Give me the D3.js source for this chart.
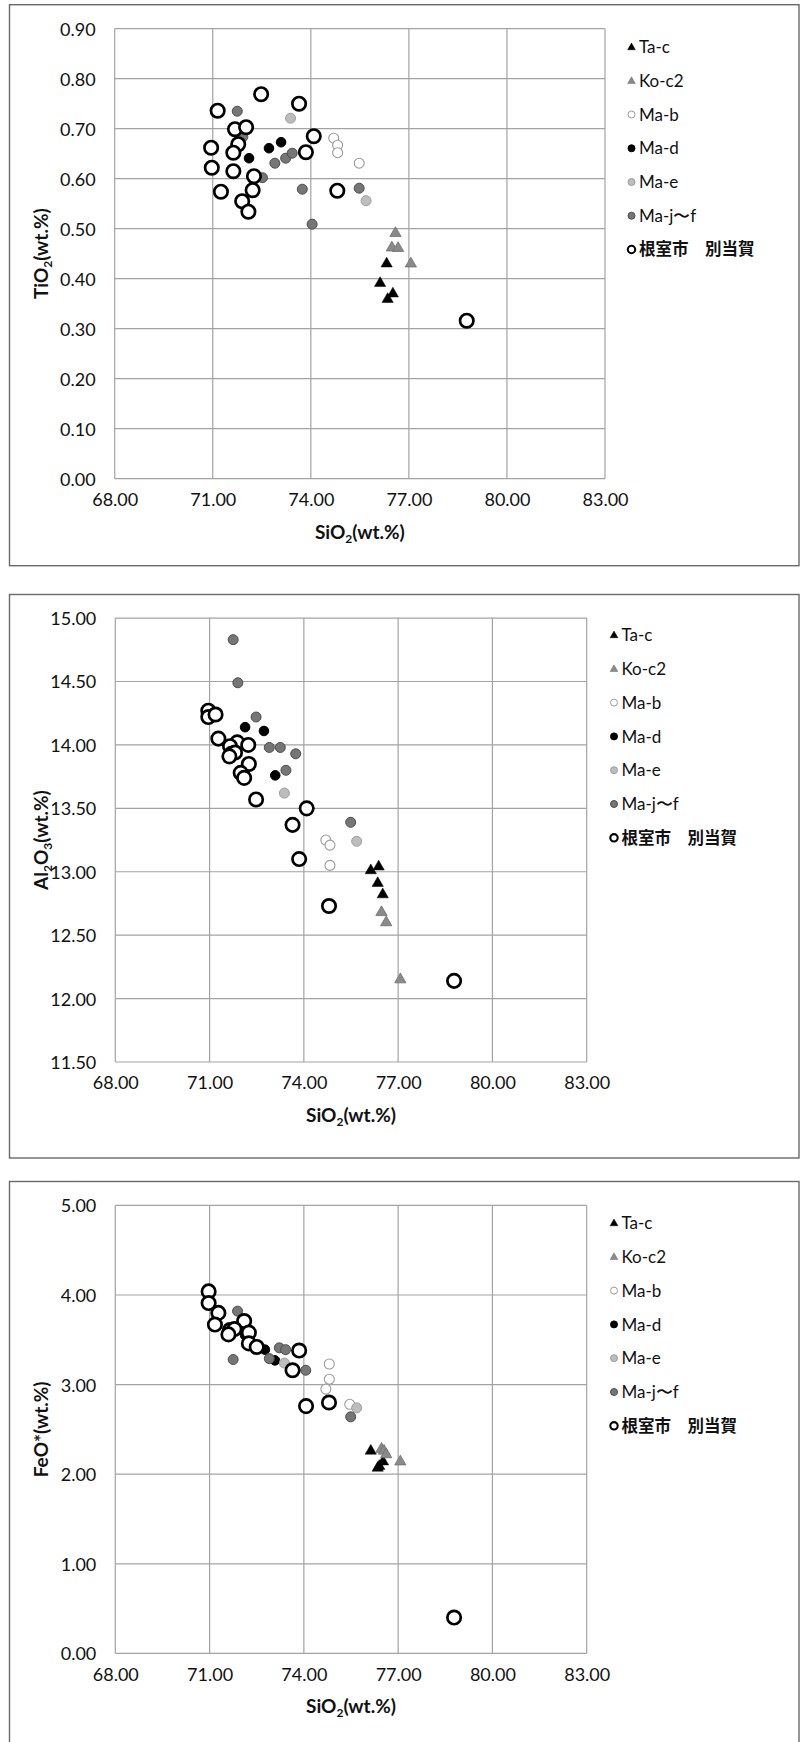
<!DOCTYPE html>
<html><head><meta charset="utf-8">
<script src="https://cdn.jsdelivr.net/npm/d3@7/dist/d3.min.js"></script>
<style>body{margin:0;background:#fff}svg{display:block}</style>
</head><body>
<script>
// ---------- Data (SiO2, oxide) ----------
const seriesNames = ["Ta-c","Ko-c2","Ma-b","Ma-d","Ma-e","Ma-j〜f","根室市　別当賀"];
const xTicks = [68,71,74,77,80,83];

// Panel 1: TiO2
const ti_Tac   = [[76.32,0.430],[76.12,0.391],[76.35,0.359],[76.51,0.370]];
const ti_Koc2  = [[76.59,0.491],[76.48,0.462],[76.67,0.461],[77.06,0.430]];
const ti_Mab   = [[74.70,0.681],[74.82,0.667],[74.82,0.652],[75.48,0.631]];
const ti_Mad   = [[72.11,0.641],[72.72,0.661],[73.09,0.673]];
const ti_Mae   = [[73.38,0.721],[75.69,0.556]];
const ti_Majf  = [[71.75,0.735],[71.92,0.684],[72.90,0.631],[73.23,0.641],[73.43,0.651],[72.52,0.602],[73.74,0.579],[75.48,0.581],[74.04,0.509]];
const ti_Nemuro= [[72.48,0.769],[73.64,0.750],[71.15,0.736],[71.68,0.699],[72.02,0.703],[74.09,0.685],[70.95,0.662],[71.78,0.669],[71.63,0.652],[73.85,0.653],[70.97,0.622],[71.63,0.615],[72.26,0.605],[71.25,0.574],[72.22,0.577],[74.81,0.576],[71.90,0.555],[72.09,0.534],[78.77,0.316]];
const tiTicks = [0,0.1,0.2,0.3,0.4,0.5,0.6,0.7,0.8,0.9];

// Panel 2: Al2O3
const al_Tac   = [[76.13,13.01],[76.38,13.04],[76.35,12.91],[76.51,12.82]];
const al_Koc2  = [[76.47,12.68],[76.62,12.60],[77.07,12.15]];
const al_Mab   = [[74.70,13.25],[74.83,13.21],[74.83,13.05]];
const al_Mad   = [[72.13,14.14],[72.73,14.11],[73.09,13.76]];
const al_Mae   = [[73.38,13.62],[75.68,13.24]];
const al_Majf  = [[71.75,14.83],[71.90,14.49],[72.48,14.22],[72.90,13.98],[73.25,13.98],[73.74,13.93],[73.43,13.80],[75.49,13.39]];
const al_Nemuro= [[70.96,14.27],[70.96,14.22],[71.19,14.24],[71.28,14.05],[71.88,14.02],[71.65,13.99],[72.23,14.00],[71.70,13.93],[71.81,13.94],[71.63,13.91],[72.25,13.85],[71.99,13.78],[72.10,13.74],[72.48,13.57],[74.09,13.50],[73.64,13.37],[73.85,13.10],[74.80,12.73],[78.78,12.14]];
const alTicks = [11.5,12,12.5,13,13.5,14,14.5,15];

// Panel 3: FeO*
const fe_Tac   = [[76.13,2.26],[76.35,2.07],[76.40,2.09],[76.52,2.14]];
const fe_Koc2  = [[76.47,2.28],[76.55,2.26],[76.62,2.22],[77.07,2.14]];
const fe_Mab   = [[74.81,3.23],[74.81,3.06],[74.70,2.95],[75.46,2.78]];
const fe_Mad   = [[72.13,3.55],[72.76,3.39],[73.08,3.27]];
const fe_Mae   = [[73.38,3.24],[75.68,2.74]];
const fe_Majf  = [[71.89,3.82],[71.75,3.28],[73.22,3.41],[73.42,3.39],[72.90,3.29],[74.06,3.16],[75.49,2.64]];
const fe_Nemuro= [[70.97,4.04],[70.97,3.91],[71.28,3.80],[71.17,3.67],[72.10,3.71],[71.65,3.61],[71.79,3.62],[71.60,3.56],[72.25,3.58],[72.25,3.46],[72.50,3.42],[73.85,3.38],[73.64,3.16],[74.07,2.76],[74.80,2.80],[78.78,0.40]];
const feTicks = [0,1,2,3,4,5];

// ---------- Styles ----------
const styles = [
  {shape:"tri", fill:"#000", stroke:"#000", sw:0.5, size:55, lsize:26},
  {shape:"tri", fill:"#8a8a8a", stroke:"#6e6e6e", sw:0.8, size:55, lsize:26},
  {shape:"circ", fill:"#fff", stroke:"#9a9a9a", sw:1.1, r:5, lr:3.5},
  {shape:"circ", fill:"#000", stroke:"#000", sw:1, r:4.8, lr:3.5},
  {shape:"circ", fill:"#bdbdbd", stroke:"#9d9d9d", sw:1, r:5, lr:3.5},
  {shape:"circ", fill:"#767676", stroke:"#4d4d4d", sw:1, r:5, lr:3.5},
  {shape:"circ", fill:"#fff", stroke:"#000", sw:2.7, r:6.7, lr:3.7, lsw:2.1}
];

const panels = [
  {data:[ti_Tac,ti_Koc2,ti_Mab,ti_Mad,ti_Mae,ti_Majf,ti_Nemuro], yTicks:tiTicks, fmt:d3.format(".2f"),
   x0:114.7, x1:605, y0:28.7, y1:478.7, frame:[4.7,565.7], legX:631.5, legY:47, legDy:33.75,
   title:[["TiO",0],["2",1],["(wt.%)",0]]},
  {data:[al_Tac,al_Koc2,al_Mab,al_Mad,al_Mae,al_Majf,al_Nemuro], yTicks:alTicks, fmt:d3.format(".2f"),
   x0:115.3, x1:586.7, y0:618.1, y1:1062, frame:[594.5,1158], legX:614, legY:635, legDy:33.8,
   title:[["Al",0],["2",1],["O",0],["3",1],["(wt.%)",0]]},
  {data:[fe_Tac,fe_Koc2,fe_Mab,fe_Mad,fe_Mae,fe_Majf,fe_Nemuro], yTicks:feTicks, fmt:d3.format(".2f"),
   x0:115.3, x1:586.7, y0:1205.4, y1:1653.4, frame:[1181.5,1760], legX:614, legY:1223, legDy:33.8,
   title:[["FeO*(wt.%)",0]]}
];

const W = 800, H = 1742;
const svg = d3.select("body").append("svg").attr("width",W).attr("height",H);
const tickFont = "Lato, 'Open Sans', sans-serif";

// rich text: parts = [text, isSub]; sub shift in px
function addRich(textSel, parts, subSize, shift){
  let cur = 0;
  parts.forEach(p=>{
    const target = p[1] ? shift : 0;
    const t = textSel.append("tspan").attr("dy", target - cur).text(p[0]);
    if(p[1]) t.attr("font-size",subSize);
    cur = target;
  });
}

panels.forEach(P=>{
  const g = svg.append("g");
  // frame
  g.append("rect").attr("x",9.5).attr("y",P.frame[0]).attr("width",789.5).attr("height",P.frame[1]-P.frame[0])
    .attr("fill","none").attr("stroke","#6a6a6a").attr("stroke-width",1.4);

  const x = d3.scaleLinear().domain([68,83]).range([P.x0,P.x1]);
  const y = d3.scaleLinear().domain([P.yTicks[0],P.yTicks[P.yTicks.length-1]]).range([P.y1,P.y0]);

  // grid
  g.append("g").selectAll("line").data(P.yTicks).join("line")
    .attr("x1",P.x0).attr("x2",P.x1).attr("y1",d=>y(d)).attr("y2",d=>y(d))
    .attr("stroke","#a3a3a3").attr("stroke-width",1.2);
  g.append("g").selectAll("line").data(xTicks).join("line")
    .attr("x1",d=>x(d)).attr("x2",d=>x(d)).attr("y1",P.y0).attr("y2",P.y1)
    .attr("stroke","#a3a3a3").attr("stroke-width",1.2);

  // axes via d3 axis (labels only)
  const ya = d3.axisLeft(y).tickValues(P.yTicks).tickFormat(P.fmt).tickSize(0).tickPadding(0);
  const yg = g.append("g").attr("transform",`translate(${P.x0-19},0)`).call(ya);
  yg.select(".domain").remove();
  yg.selectAll("text").attr("font-family",tickFont).attr("font-size",18).attr("fill","#111").attr("dy","0.36em");

  const xa = d3.axisBottom(x).tickValues(xTicks).tickFormat(d3.format(".2f")).tickSize(0).tickPadding(0);
  const xg = g.append("g").attr("transform",`translate(0,${P.y1+21})`).call(xa);
  xg.select(".domain").remove();
  xg.selectAll("text").attr("font-family",tickFont).attr("font-size",18).attr("fill","#111").attr("dy","0.36em");

  // axis titles
  const xt = g.append("text").attr("x",(P.x0+P.x1)/2).attr("y",P.y1+60)
    .attr("text-anchor","middle").attr("font-family",tickFont).attr("font-weight","bold").attr("font-size",19).attr("fill","#111");
  addRich(xt,[["SiO",0],["2",1],["(wt.%)",0]],12,4);
  const cy = (P.y0+P.y1)/2;
  const yt = g.append("text").attr("transform",`translate(48,${cy}) rotate(-90)`)
    .attr("text-anchor","middle").attr("font-family",tickFont).attr("font-weight","bold").attr("font-size",19).attr("fill","#111");
  addRich(yt,P.title,12,4);

  // points
  P.data.forEach((arr,i)=>{
    const s = styles[i];
    const sg = g.append("g");
    if(s.shape==="circ"){
      sg.selectAll("circle").data(arr).join("circle")
        .attr("cx",d=>x(d[0])).attr("cy",d=>y(d[1])).attr("r",s.r)
        .attr("fill",s.fill).attr("stroke",s.stroke).attr("stroke-width",s.sw);
    } else {
      const sym = d3.symbol().type(d3.symbolTriangle).size(s.size);
      sg.selectAll("path").data(arr).join("path")
        .attr("transform",d=>`translate(${x(d[0])},${y(d[1])})`).attr("d",sym)
        .attr("fill",s.fill).attr("stroke",s.stroke).attr("stroke-width",s.sw);
    }
  });

  // legend
  seriesNames.forEach((name,i)=>{
    const s = styles[i];
    const ly = P.legY + i*P.legDy;
    if(s.shape==="circ"){
      g.append("circle").attr("cx",P.legX).attr("cy",ly).attr("r",s.lr)
        .attr("fill",s.fill).attr("stroke",s.stroke).attr("stroke-width",s.lsw||1);
    } else {
      g.append("path").attr("transform",`translate(${P.legX},${ly+0.5})`)
        .attr("d",d3.symbol().type(d3.symbolTriangle).size(s.lsize)).attr("fill",s.fill).attr("stroke",s.stroke).attr("stroke-width",0.5);
    }
    const isCJK = i===6;
    g.append("text").attr("x",P.legX+7.5).attr("y",ly).attr("dy","0.36em")
      .attr("font-family",isCJK?"'Noto Sans CJK JP', sans-serif":tickFont)
      .attr("font-weight",isCJK?"bold":"normal")
      .attr("font-size",isCJK?16.5:17).attr("fill","#111").text(name);
  });
});
</script>
</body></html>
